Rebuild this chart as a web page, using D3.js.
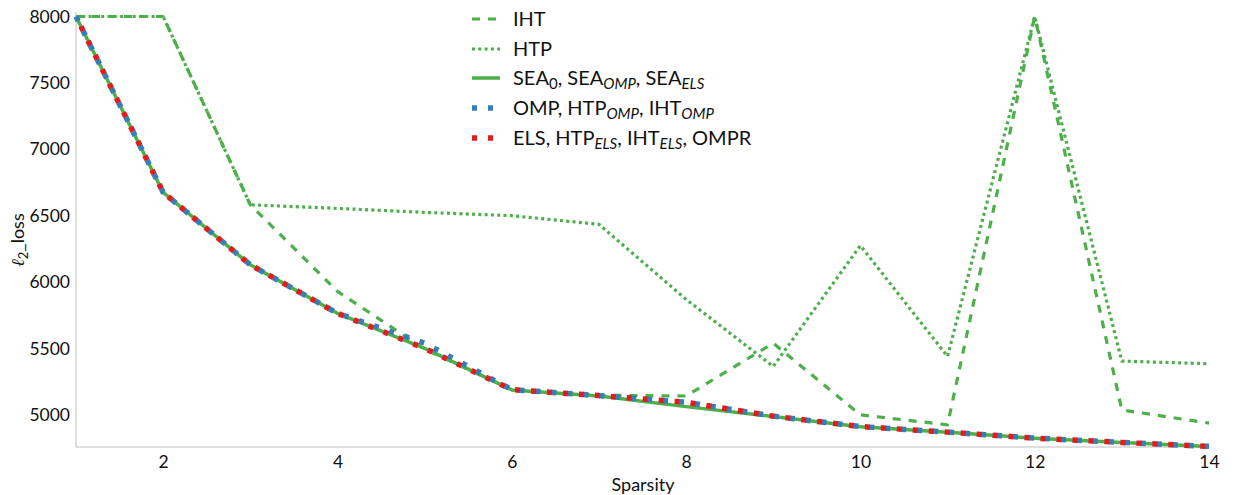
<!DOCTYPE html>
<html>
<head>
<meta charset="utf-8">
<script src="https://cdn.jsdelivr.net/npm/d3@7"></script>
<style>
  html, body { margin: 0; padding: 0; background: #fff; }
  svg { display: block; font-family: Lato, "Open Sans", sans-serif; }
</style>
</head>
<body>
<svg id="chart" width="1236" height="495"></svg>
<script>
const sparsity = [1, 2, 3, 4, 5, 6, 7, 8, 9, 10, 11, 12, 13, 14];
const ihtLoss  = [8000, 8000, 6582, 5930, 5495, 5190, 5148, 5142, 5540, 5000, 4925, 8000, 5037, 4938];
const htpLoss  = [8000, 8000, 6582, 6555, 6525, 6500, 6435, 5870, 5365, 6275, 5440, 8000, 5405, 5385];
const seaLoss  = [8000, 6675, 6130, 5765, 5501, 5188, 5142, 5062, 4988, 4911, 4869, 4824, 4791, 4762];
const ompLoss  = [8000, 6675, 6130, 5765, 5540, 5190, 5145, 5095, 4990, 4912, 4870, 4825, 4792, 4763];
const elsLoss  = [8000, 6675, 6130, 5765, 5501, 5190, 5145, 5095, 4990, 4912, 4870, 4825, 4792, 4763];
const xTicks = [2, 4, 6, 8, 10, 12, 14];
const yTicks = [5000, 5500, 6000, 6500, 7000, 7500, 8000];

const svg = d3.select("#chart");
const x = d3.scaleLinear().domain([1, 14]).range([76, 1209]);
const y = d3.scaleLinear().domain([4758, 8034]).range([447, 12]);

// spines
svg.append("line").attr("x1", 76).attr("x2", 76).attr("y1", 12).attr("y2", 447)
  .attr("stroke", "#d3d3d3").attr("stroke-width", 1.5);
svg.append("line").attr("x1", 76).attr("x2", 1209).attr("y1", 447).attr("y2", 447)
  .attr("stroke", "#d3d3d3").attr("stroke-width", 1.5);

// axes (no tick marks)
const xAxis = svg.append("g").attr("transform", "translate(0,447)")
  .call(d3.axisBottom(x).tickValues(xTicks).tickSize(0).tickPadding(9).tickFormat(d3.format("d")));
const yAxis = svg.append("g").attr("transform", "translate(76,0)")
  .call(d3.axisLeft(y).tickValues(yTicks).tickSize(0).tickPadding(6).tickFormat(d3.format("d")));
[xAxis, yAxis].forEach(a => {
  a.select(".domain").remove();
  a.selectAll("text").attr("font-family", "Lato, sans-serif").attr("font-size", 17.5).attr("fill", "#111");
});

// axis labels
svg.append("text").attr("x", 643).attr("y", 491).attr("text-anchor", "middle")
  .attr("font-size", 18).attr("fill", "#111").text("Sparsity");
const yl = svg.append("text").attr("transform", "translate(24,240) rotate(-90)")
  .attr("text-anchor", "middle").attr("font-size", 18).attr("fill", "#111");
yl.append("tspan").attr("font-family", "DejaVu Serif, serif").attr("font-style", "italic").text("ℓ");
yl.append("tspan").attr("font-size", 13).attr("dy", 4).text("2");
yl.append("tspan").attr("dy", -4).text("_loss");

const GREEN = "#4daf4a", BLUE = "#377eb8", RED = "#e41a1c";
const series = [
  { name: "sea", vals: seaLoss, color: GREEN, w: 3.5, dash: null, off: 0 },
  { name: "iht", vals: ihtLoss, color: GREEN, w: 3.2, dash: "8,8", off: 0 },
  { name: "htp", vals: htpLoss, color: GREEN, w: 3.2, dash: "3,3.3", off: 0 },
  { name: "omp", vals: ompLoss, color: BLUE, w: 5.5, dash: "5,11", off: 0 },
  { name: "els", vals: elsLoss, color: RED, w: 5.5, dash: "5,11", off: 5 }
];
const line = d3.line().x((d, i) => x(sparsity[i])).y(d => y(d));
series.forEach(s => {
  svg.append("path").datum(s.vals).attr("d", line)
    .attr("fill", "none").attr("stroke", s.color).attr("stroke-width", s.w)
    .attr("stroke-dasharray", s.dash).attr("stroke-dashoffset", s.off)
    .attr("stroke-linejoin", "round");
});

// legend
const legendItems = [
  { s: series[1], parts: [["IHT", null]] },
  { s: series[2], parts: [["HTP", null]] },
  { s: series[0], parts: [["SEA", null], ["0", "sub"], [", SEA", null], ["OMP", "isub"], [", SEA", null], ["ELS", "isub"]] },
  { s: series[3], parts: [["OMP, HTP", null], ["OMP", "isub"], [", IHT", null], ["OMP", "isub"]] },
  { s: series[4], parts: [["ELS, HTP", null], ["ELS", "isub"], [", IHT", null], ["ELS", "isub"], [", OMPR", null]] }
];
const legY = [19, 49, 78, 108, 138];
legendItems.forEach((it, k) => {
  const g = svg.append("g").attr("transform", `translate(0,${legY[k]})`);
  g.append("line").attr("x1", 472).attr("x2", 500).attr("y1", 0).attr("y2", 0)
    .attr("stroke", it.s.color).attr("stroke-width", it.s.w)
    .attr("stroke-dasharray", it.s.dash);
  const t = g.append("text").attr("x", 513).attr("y", 7).attr("font-size", 20).attr("fill", "#111");
  let shifted = false;
  it.parts.forEach(([str, kind]) => {
    const ts = t.append("tspan").text(str);
    if (kind) {
      ts.attr("font-size", 15).attr("dy", shifted ? 0 : 4);
      if (kind === "isub") ts.attr("font-style", "italic");
      shifted = true;
    } else if (shifted) {
      ts.attr("dy", -4);
      shifted = false;
    }
  });
});
</script>
</body>
</html>
